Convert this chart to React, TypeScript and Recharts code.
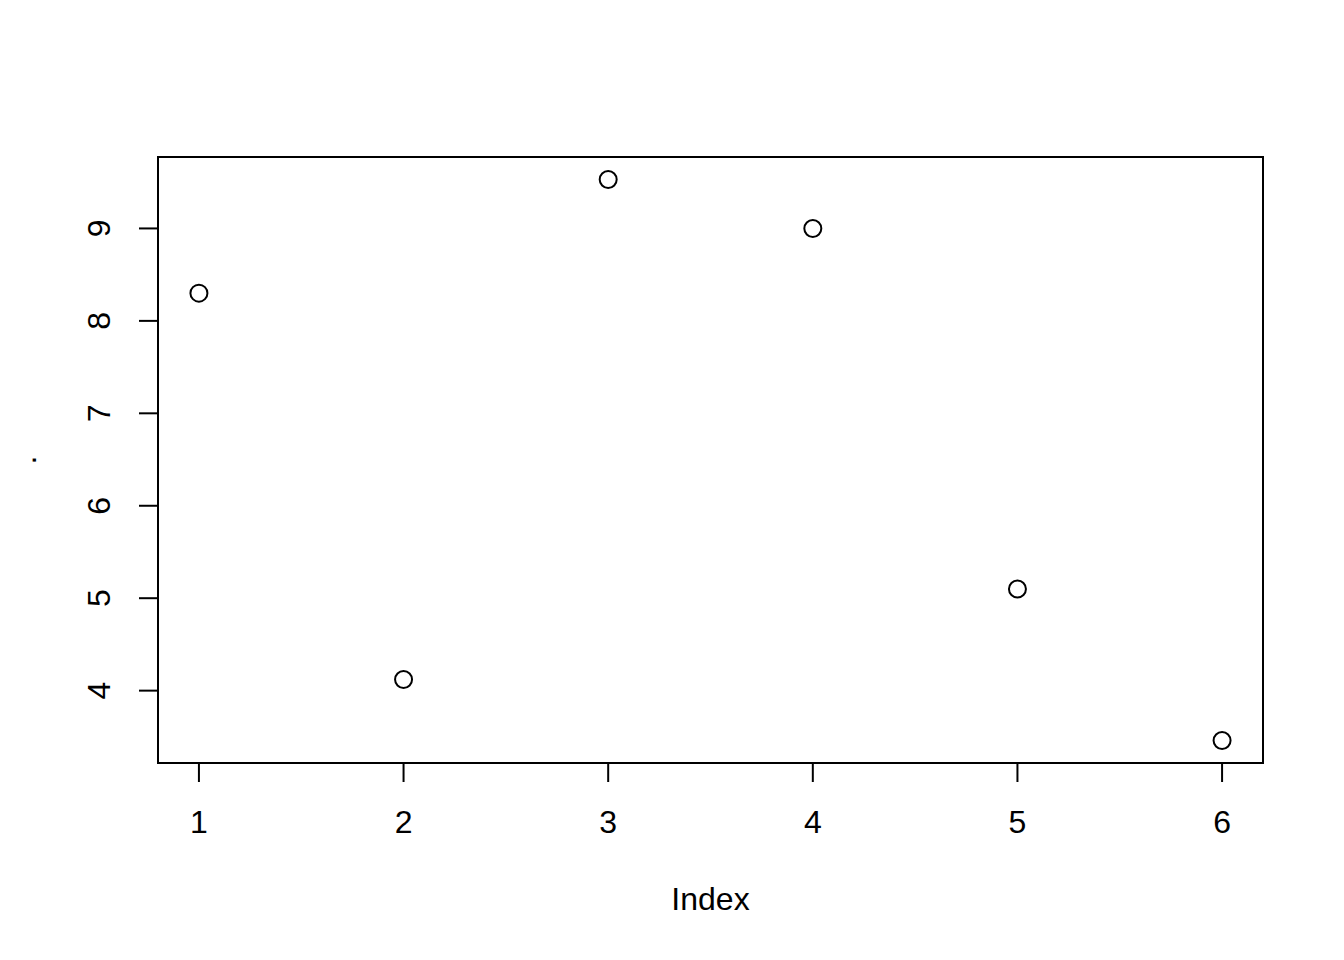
import React from 'react';
import { ScatterChart, Scatter, XAxis, YAxis, ReferenceArea } from 'recharts';

const indexValues = [1, 2, 3, 4, 5, 6];
const seriesValues = [8.3, 4.12, 9.53, 9.0, 5.1, 3.46];
const xTicks = [1, 2, 3, 4, 5, 6];
const yTicks = [4, 5, 6, 7, 8, 9];
const xLabel = 'Index';
const yLabel = '.';

const data = indexValues.map((x, i) => ({ x, y: seriesValues[i] }));

const pad = (lo: number, hi: number): [number, number] => {
  const e = (hi - lo) * 0.04;
  return [lo - e, hi + e];
};
const xDomain = pad(Math.min(...indexValues), Math.max(...indexValues));
const yDomain = pad(Math.min(...seriesValues), Math.max(...seriesValues));

const FONT = '"Liberation Sans", Arial, Helvetica, sans-serif';
const TICK_FS = 32;
const LABEL_FS = 32;

const XTick = (props: any) => {
  const { x, y, payload } = props;
  return (
    <text x={x} y={y} dy={49} textAnchor="middle" fontFamily={FONT} fontSize={TICK_FS} fill="#000">
      {payload.value}
    </text>
  );
};

const YTick = (props: any) => {
  const { x, y, payload } = props;
  const bx = x - 27;
  return (
    <text
      x={bx}
      y={y}
      transform={`rotate(-90, ${bx}, ${y})`}
      textAnchor="middle"
      fontFamily={FONT}
      fontSize={TICK_FS}
      fill="#000"
    >
      {payload.value}
    </text>
  );
};

const Ring = (props: any) => {
  const { cx, cy } = props;
  return <circle cx={cx} cy={cy} r={8.5} fill="none" stroke="#000" strokeWidth={2} />;
};

export default function App() {
  return (
    <div style={{ position: 'absolute', left: 0, top: 0, width: 1344, height: 960, background: '#fff' }}>
      <ScatterChart
        width={1344}
        height={960}
        margin={{ top: 157, right: 81, left: 58, bottom: 97 }}
      >
        <XAxis
          type="number"
          dataKey="x"
          domain={xDomain}
          ticks={xTicks}
          allowDataOverflow
          height={100}
          axisLine={false}
          tickLine={{ stroke: '#000', strokeWidth: 2 }}
          tickSize={19}
          tick={<XTick />}
          label={{
            content: (p: any) => {
              const vb = p.viewBox;
              return (
                <text
                  x={vb.x + vb.width / 2}
                  y={vb.y + 147}
                  textAnchor="middle"
                  fontFamily={FONT}
                  fontSize={LABEL_FS}
                  fill="#000"
                >
                  {xLabel}
                </text>
              );
            },
          }}
        />
        <YAxis
          type="number"
          dataKey="y"
          domain={yDomain}
          ticks={yTicks}
          allowDataOverflow
          width={100}
          axisLine={false}
          tickLine={{ stroke: '#000', strokeWidth: 2 }}
          tickSize={19}
          tick={<YTick />}
          label={{
            content: (p: any) => {
              const vb = p.viewBox;
              const bx = vb.x - 22;
              const cy = vb.y + vb.height / 2;
              return (
                <text
                  x={bx}
                  y={cy}
                  transform={`rotate(-90, ${bx}, ${cy})`}
                  textAnchor="middle"
                  fontFamily={FONT}
                  fontSize={LABEL_FS}
                  fill="#000"
                >
                  {yLabel}
                </text>
              );
            },
          }}
        />
        <ReferenceArea
          x1={xDomain[0]}
          x2={xDomain[1]}
          y1={yDomain[0]}
          y2={yDomain[1]}
          fill="none"
          fillOpacity={0}
          stroke="#000"
          strokeWidth={2}
          ifOverflow="visible"
        />
        <Scatter data={data} shape={<Ring />} isAnimationActive={false} />
      </ScatterChart>
    </div>
  );
}
